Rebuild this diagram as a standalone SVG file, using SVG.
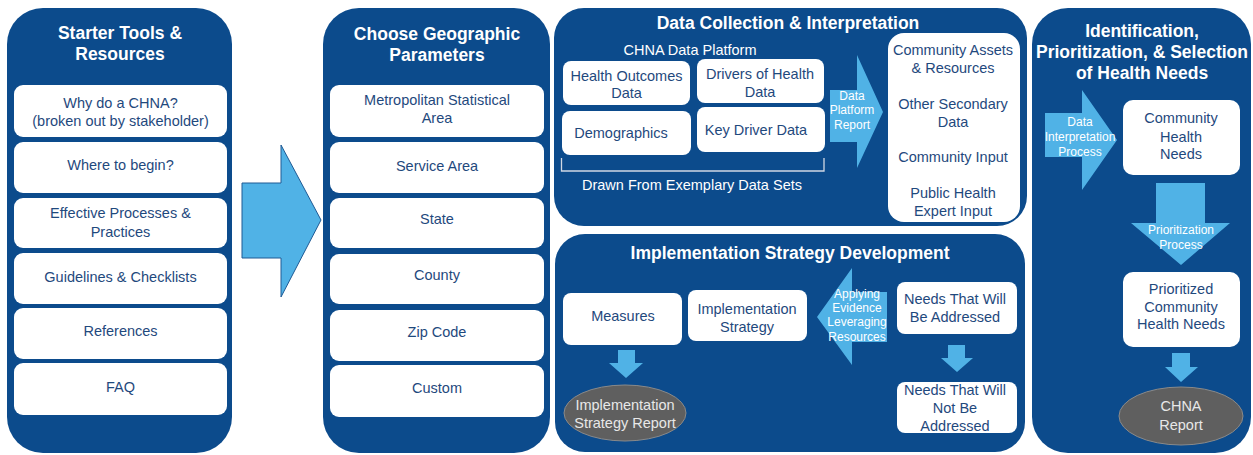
<svg xmlns="http://www.w3.org/2000/svg" width="1253" height="455" viewBox="0 0 1253 455">
<style>
.panel{fill:#0c4b8c}
.box{fill:#ffffff}
.title{font-family:"Liberation Sans",Arial,sans-serif;font-weight:bold;font-size:17.5px;fill:#ffffff;text-anchor:middle}
.t{font-family:"Liberation Sans",Arial,sans-serif;font-size:14.5px;fill:#1f497d;text-anchor:middle}
.w{font-family:"Liberation Sans",Arial,sans-serif;font-size:14.5px;fill:#ffffff;text-anchor:middle}
.a{font-family:"Liberation Sans",Arial,sans-serif;font-size:12px;fill:#ffffff;text-anchor:middle}
.e{font-family:"Liberation Sans",Arial,sans-serif;font-size:14.5px;fill:#e8e8e8;text-anchor:middle}
.arr{fill:#50b2e6}
.ell{fill:#5f5f5f;stroke:#8a8a8a;stroke-width:1}
</style>
<rect width="1253" height="455" fill="#ffffff"/>

<g id="starter">
<rect class="panel" x="7" y="8" width="225" height="445" rx="36"/>
<text class="title" x="120" y="39">Starter Tools &amp;</text>
<text class="title" x="120" y="60">Resources</text>
<rect class="box" x="14" y="85" width="213" height="52" rx="9"/>
<text class="t" x="120.5" y="108">Why do a CHNA?</text>
<text class="t" x="120.5" y="126">(broken out by stakeholder)</text>
<rect class="box" x="14" y="142" width="213" height="51" rx="9"/>
<text class="t" x="120.5" y="170">Where to begin?</text>
<rect class="box" x="14" y="198" width="213" height="50" rx="9"/>
<text class="t" x="120.5" y="218">Effective Processes &amp;</text>
<text class="t" x="120.5" y="237">Practices</text>
<rect class="box" x="14" y="253" width="213" height="51" rx="9"/>
<text class="t" x="120.5" y="282">Guidelines &amp; Checklists</text>
<rect class="box" x="14" y="308" width="213" height="51" rx="9"/>
<text class="t" x="120.5" y="336">References</text>
<rect class="box" x="14" y="363" width="213" height="52" rx="9"/>
<text class="t" x="120.5" y="392">FAQ</text>
</g>

<g id="geo">
<rect class="panel" x="323" y="8" width="227" height="445" rx="36"/>
<text class="title" x="437" y="40">Choose Geographic</text>
<text class="title" x="437" y="61">Parameters</text>
<rect class="box" x="330" y="85" width="214" height="52" rx="9"/>
<text class="t" x="437" y="105">Metropolitan Statistical</text>
<text class="t" x="437" y="123">Area</text>
<rect class="box" x="330" y="142" width="214" height="51" rx="9"/>
<text class="t" x="437" y="171">Service Area</text>
<rect class="box" x="330" y="198" width="214" height="50" rx="9"/>
<text class="t" x="437" y="224">State</text>
<rect class="box" x="330" y="254" width="214" height="50" rx="9"/>
<text class="t" x="437" y="280">County</text>
<rect class="box" x="330" y="310" width="214" height="51" rx="9"/>
<text class="t" x="437" y="337">Zip Code</text>
<rect class="box" x="330" y="365" width="214" height="52" rx="9"/>
<text class="t" x="437" y="393">Custom</text>
</g>

<g id="data">
<rect class="panel" x="554" y="8" width="473" height="218" rx="30"/>
<text class="title" x="788" y="29">Data Collection &amp; Interpretation</text>
<text class="w" x="690" y="55">CHNA Data Platform</text>
<rect class="box" x="563" y="61" width="127" height="44" rx="8"/>
<text class="t" x="626.5" y="81">Health Outcomes</text>
<text class="t" x="626.5" y="98">Data</text>
<rect class="box" x="697" y="59" width="127" height="44" rx="8"/>
<text class="t" x="760" y="79">Drivers of Health</text>
<text class="t" x="760" y="97">Data</text>
<rect class="box" x="562" y="111" width="129" height="44" rx="8"/>
<text class="t" x="621" y="138">Demographics</text>
<rect class="box" x="697" y="107" width="128" height="45" rx="8"/>
<text class="t" x="756" y="135">Key Driver Data</text>
<path d="M561.5 158 V171 H824 V158" fill="none" stroke="#d0d8e4" stroke-width="1.3"/>
<text class="w" x="692" y="190">Drawn From Exemplary Data Sets</text>
<rect class="box" x="888" y="33" width="132" height="189" rx="16"/>
<text class="t" x="953" y="55">Community Assets</text>
<text class="t" x="953" y="73">&amp; Resources</text>
<text class="t" x="953" y="109">Other Secondary</text>
<text class="t" x="953" y="127">Data</text>
<text class="t" x="953" y="162">Community Input</text>
<text class="t" x="953" y="198">Public Health</text>
<text class="t" x="953" y="216">Expert Input</text>
</g>

<g id="impl">
<rect class="panel" x="555" y="234" width="470" height="218" rx="30"/>
<text class="title" x="790" y="259">Implementation Strategy Development</text>
<rect class="box" x="563" y="293" width="119" height="52" rx="8"/>
<text class="t" x="623" y="321">Measures</text>
<rect class="box" x="688" y="290" width="119" height="51" rx="8"/>
<text class="t" x="747" y="314">Implementation</text>
<text class="t" x="747" y="332">Strategy</text>
<rect class="box" x="897" y="282" width="120" height="52" rx="8"/>
<text class="t" x="955" y="304">Needs That Will</text>
<text class="t" x="955" y="322">Be Addressed</text>
<rect class="box" x="897" y="382" width="120" height="51" rx="8"/>
<text class="t" x="955" y="395">Needs That Will</text>
<text class="t" x="955" y="413">Not Be</text>
<text class="t" x="955" y="431">Addressed</text>
<ellipse class="ell" cx="625" cy="413" rx="61" ry="28"/>
<text class="e" x="625" y="410">Implementation</text>
<text class="e" x="625" y="428">Strategy Report</text>
</g>

<g id="ident">
<rect class="panel" x="1032" y="8" width="219" height="445" rx="36"/>
<text class="title" x="1142" y="37">Identification,</text>
<text class="title" x="1142" y="58">Prioritization, &amp; Selection</text>
<text class="title" x="1142" y="79">of Health Needs</text>
<rect class="box" x="1123" y="100" width="117" height="75" rx="10"/>
<text class="t" x="1181" y="123">Community</text>
<text class="t" x="1181" y="142">Health</text>
<text class="t" x="1181" y="159">Needs</text>
<rect class="box" x="1123" y="272" width="117" height="75" rx="10"/>
<text class="t" x="1181" y="294">Prioritized</text>
<text class="t" x="1181" y="312">Community</text>
<text class="t" x="1181" y="329">Health Needs</text>
<ellipse class="ell" cx="1181" cy="416" rx="62" ry="29"/>
<text class="e" x="1181" y="411">CHNA</text>
<text class="e" x="1181" y="430">Report</text>
</g>

<g id="connectors">
<polygon points="242,183 281,183 281,145 321,220 281,297 281,258 242,258" fill="#50b2e6" stroke="#1f5a94" stroke-width="1"/>
<polygon class="arr" points="830,90 857,90 857,55 883,112 857,168 857,142 830,142"/>
<text class="a" x="852" y="100">Data</text>
<text class="a" x="852" y="114">Platform</text>
<text class="a" x="852" y="129">Report</text>
<polygon class="arr" points="817,317 852,268 852,292 887,292 887,342 852,342 852,365"/>
<text class="a" x="857" y="298">Applying</text>
<text class="a" x="857" y="312">Evidence</text>
<text class="a" x="857" y="326">Leveraging</text>
<text class="a" x="857" y="341">Resources</text>
<polygon class="arr" points="618,350 635,350 635,363 643,363 626,378 609,363 618,363"/>
<polygon class="arr" points="948,345 965,345 965,358 973,358 957,372 941,358 948,358"/>
<polygon class="arr" points="1045,113 1082,113 1082,90 1117,140 1082,190 1082,157 1045,157"/>
<text class="a" x="1080" y="126">Data</text>
<text class="a" x="1080" y="141">Interpretation</text>
<text class="a" x="1080" y="156">Process</text>
<polygon class="arr" points="1156,183 1205,183 1205,223 1230,223 1181,265 1131,223 1156,223"/>
<text class="a" x="1181" y="234">Prioritization</text>
<text class="a" x="1181" y="249">Process</text>
<polygon class="arr" points="1172,353 1190,353 1190,367 1198,367 1181,382 1165,367 1172,367"/>
</g>
</svg>
